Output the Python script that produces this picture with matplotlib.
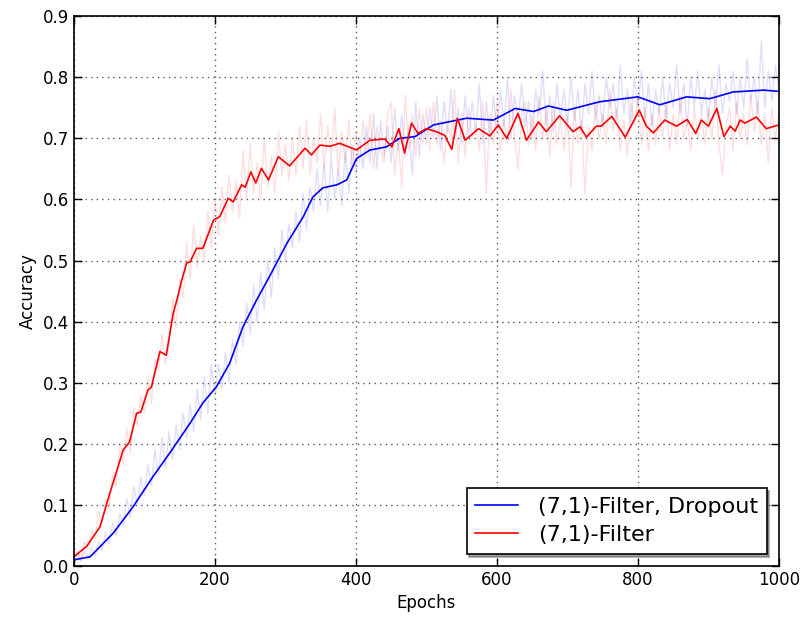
import numpy as np
import matplotlib
matplotlib.use("Agg")
import matplotlib.pyplot as plt

# smoothed curves (epoch, accuracy)
blue_ep = [0, 23, 56, 84, 112, 136, 165, 183, 202, 221, 240, 259, 278, 302, 325, 339, 353, 373, 387, 401,
           420, 443, 462, 484, 510, 557, 595, 626, 652, 673, 699, 746, 800, 831, 869, 902, 935, 978, 1000]
blue_sm = [0.01, 0.015, 0.054, 0.097, 0.146, 0.185, 0.234, 0.267, 0.293, 0.332, 0.392, 0.435, 0.475, 0.528,
           0.571, 0.604, 0.619, 0.624, 0.632, 0.667, 0.681, 0.686, 0.70, 0.703, 0.722, 0.733, 0.730, 0.749,
           0.744, 0.753, 0.746, 0.760, 0.768, 0.755, 0.768, 0.765, 0.776, 0.779, 0.777]

red_ep = [0, 18, 37, 51, 70, 79, 89, 95, 105, 110, 122, 131, 141, 146, 153, 160, 165, 174, 183, 198,
          207, 219, 226, 238, 243, 251, 258, 266, 276, 290, 306, 328, 337, 349, 363, 377, 401, 420, 441, 451,
          461, 469, 479, 488, 500, 514, 526, 536, 544, 555, 574, 590, 602, 614, 630, 642, 659, 670, 689, 708,
          718, 727, 741, 748, 763, 782, 802, 812, 822, 838, 855, 870, 882, 890, 900, 912, 922, 931, 938, 945,
          952, 968, 982, 1000]
red_sm = [0.015, 0.032, 0.064, 0.119, 0.19, 0.203, 0.25, 0.252, 0.288, 0.293, 0.351, 0.345, 0.414, 0.435,
          0.468, 0.496, 0.498, 0.52, 0.52, 0.566, 0.572, 0.602, 0.596, 0.624, 0.62, 0.645, 0.627, 0.651, 0.632,
          0.67, 0.655, 0.684, 0.673, 0.689, 0.687, 0.692, 0.681, 0.697, 0.699, 0.686, 0.716, 0.676, 0.725,
          0.708, 0.716, 0.711, 0.705, 0.682, 0.733, 0.697, 0.716, 0.704, 0.722, 0.70, 0.741, 0.697, 0.727,
          0.711, 0.737, 0.711, 0.719, 0.702, 0.72, 0.72, 0.736, 0.702, 0.746, 0.72, 0.709, 0.73, 0.72, 0.731,
          0.708, 0.73, 0.72, 0.749, 0.703, 0.72, 0.712, 0.73, 0.725, 0.735, 0.716, 0.722]

# raw (unsmoothed) accuracy, every 5 epochs
raw_ep = list(range(0, 1001, 5))
blue_raw = [
    0.010, 0.020, 0.008, 0.025, 0.012, 0.030, 0.015, 0.040, 0.025, 0.055, 0.035, 0.070, 0.050, 0.085, 0.065, 0.110, 0.080, 0.130, 0.100, 0.145,
    0.115, 0.165, 0.130, 0.190, 0.150, 0.210, 0.160, 0.220, 0.175, 0.230, 0.190, 0.250, 0.210, 0.265, 0.220, 0.290, 0.240, 0.310, 0.250, 0.330,
    0.280, 0.330, 0.290, 0.350, 0.300, 0.370, 0.330, 0.400, 0.360, 0.430, 0.380, 0.460, 0.400, 0.480, 0.420, 0.500, 0.440, 0.520, 0.470, 0.550,
    0.500, 0.560, 0.520, 0.580, 0.530, 0.610, 0.550, 0.620, 0.580, 0.650, 0.590, 0.660, 0.580, 0.670, 0.600, 0.650, 0.590, 0.680, 0.610, 0.690,
    0.640, 0.700, 0.650, 0.720, 0.660, 0.740, 0.650, 0.730, 0.670, 0.720, 0.660, 0.750, 0.680, 0.740, 0.670, 0.720, 0.640, 0.760, 0.670, 0.740,
    0.690, 0.750, 0.700, 0.770, 0.680, 0.760, 0.710, 0.780, 0.700, 0.750, 0.690, 0.770, 0.700, 0.760, 0.710, 0.790, 0.690, 0.760, 0.700, 0.770,
    0.710, 0.780, 0.720, 0.800, 0.700, 0.770, 0.730, 0.790, 0.720, 0.760, 0.700, 0.780, 0.740, 0.810, 0.720, 0.770, 0.710, 0.790, 0.730, 0.780,
    0.720, 0.800, 0.730, 0.780, 0.710, 0.790, 0.740, 0.810, 0.730, 0.770, 0.720, 0.800, 0.750, 0.790, 0.730, 0.820, 0.740, 0.780, 0.720, 0.800,
    0.750, 0.810, 0.730, 0.790, 0.720, 0.780, 0.740, 0.800, 0.730, 0.790, 0.750, 0.820, 0.740, 0.790, 0.720, 0.800, 0.750, 0.810, 0.740, 0.780,
    0.730, 0.800, 0.750, 0.820, 0.740, 0.790, 0.760, 0.810, 0.740, 0.800, 0.750, 0.830, 0.760, 0.800, 0.740, 0.860, 0.750, 0.810, 0.760, 0.820,
    0.780]
red_raw = [
    0.012, 0.025, 0.010, 0.040, 0.028, 0.060, 0.045, 0.090, 0.070, 0.110, 0.095, 0.150, 0.130, 0.200, 0.165, 0.225, 0.185, 0.260, 0.230, 0.280,
    0.250, 0.310, 0.265, 0.340, 0.320, 0.380, 0.330, 0.360, 0.440, 0.390, 0.470, 0.440, 0.530, 0.470, 0.560, 0.490, 0.540, 0.500, 0.580, 0.520,
    0.600, 0.540, 0.620, 0.560, 0.640, 0.580, 0.630, 0.570, 0.680, 0.600, 0.690, 0.610, 0.660, 0.600, 0.700, 0.620, 0.670, 0.610, 0.710, 0.640,
    0.690, 0.630, 0.700, 0.640, 0.720, 0.650, 0.730, 0.640, 0.700, 0.660, 0.740, 0.650, 0.720, 0.670, 0.750, 0.640, 0.710, 0.660, 0.730, 0.650,
    0.710, 0.660, 0.730, 0.670, 0.740, 0.650, 0.720, 0.680, 0.660, 0.740, 0.760, 0.640, 0.700, 0.620, 0.770, 0.680, 0.740, 0.670, 0.750, 0.690,
    0.750, 0.680, 0.760, 0.690, 0.730, 0.660, 0.720, 0.700, 0.780, 0.660, 0.740, 0.670, 0.750, 0.700, 0.720, 0.680, 0.760, 0.610, 0.740, 0.690,
    0.760, 0.680, 0.730, 0.690, 0.780, 0.700, 0.650, 0.740, 0.760, 0.690, 0.740, 0.680, 0.770, 0.700, 0.750, 0.670, 0.760, 0.690, 0.730, 0.680,
    0.740, 0.620, 0.750, 0.690, 0.730, 0.610, 0.720, 0.680, 0.760, 0.700, 0.740, 0.690, 0.780, 0.710, 0.750, 0.680, 0.730, 0.670, 0.760, 0.720,
    0.770, 0.690, 0.750, 0.680, 0.740, 0.690, 0.750, 0.700, 0.760, 0.680, 0.740, 0.690, 0.770, 0.700, 0.730, 0.680, 0.750, 0.700, 0.740, 0.690,
    0.750, 0.700, 0.780, 0.690, 0.640, 0.720, 0.750, 0.680, 0.760, 0.700, 0.740, 0.690, 0.770, 0.710, 0.760, 0.690, 0.740, 0.660, 0.750, 0.700,
    0.740]

labels = ['(7,1)-Filter, Dropout', '(7,1)-Filter']

plt.rcParams['font.family'] = ['DejaVu Sans']
plt.rcParams['xtick.direction'] = 'in'
plt.rcParams['ytick.direction'] = 'in'

fig = plt.figure(figsize=(8.03, 6.24), dpi=100)
ax = fig.add_axes([0.092, 0.093, 0.878, 0.881])

ax.plot(raw_ep, blue_raw, color='blue', alpha=0.13, lw=1)
ax.plot(raw_ep, red_raw, color='red', alpha=0.13, lw=1)
ax.plot(blue_ep, blue_sm, color='blue', lw=1.2, label=labels[0])
ax.plot(red_ep, red_sm, color='red', lw=1.2, label=labels[1])

ax.set_xlim(0, 1000)
ax.set_ylim(0, 0.9)
ax.set_xticks(np.arange(0, 1001, 200))
ax.set_yticks(np.arange(0, 0.91, 0.1))
ax.yaxis.set_major_formatter(matplotlib.ticker.FormatStrFormatter('%.1f'))
ax.tick_params(top=True, right=True, labelsize=12, length=6, width=1)
ax.grid(True, color='0.35', linestyle=(0, (1, 3)), linewidth=1)
for s in ax.spines.values():
    s.set_linewidth(1.2)
ax.set_xlabel('Epochs', fontsize=12)
ax.set_ylabel('Accuracy', fontsize=12)

leg = ax.legend(loc='lower right', shadow=True, fancybox=False, fontsize=16,
                framealpha=1, edgecolor='black', handlelength=1.9, handletextpad=0.9,
                borderaxespad=0.55, labelspacing=0.35)
leg.get_frame().set_linewidth(1.2)

fig.savefig('out.png', dpi=100, facecolor='white')
